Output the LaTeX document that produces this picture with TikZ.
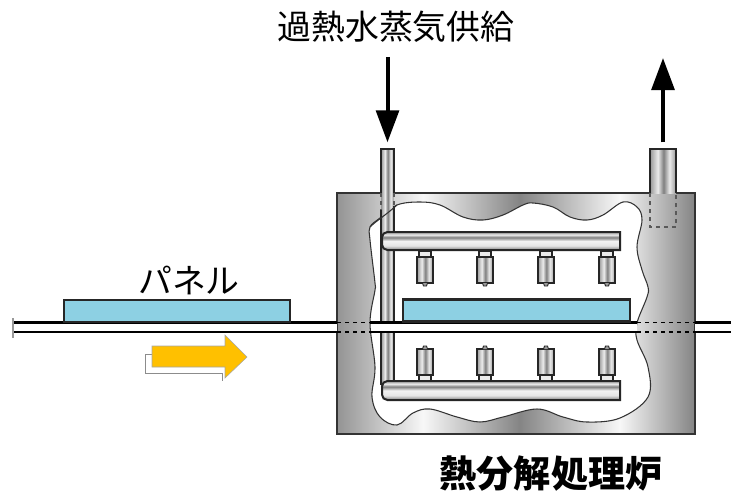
\documentclass[tikz,border=0pt]{standalone}
\usepackage{fontspec}
\newfontfamily\jpfont{Noto Sans CJK JP}
\usepackage{tikz}
\usetikzlibrary{arrows.meta}

\pgfdeclarehorizontalshading{wallshade}{100bp}{
  color(0bp)=(black!42); color(25bp)=(black!42); color(37bp)=(black!3); color(50.5bp)=(black!48);
  color(64.5bp)=(black!3); color(75bp)=(black!48); color(100bp)=(black!48)}
\pgfdeclarehorizontalshading{pipeshade}{100bp}{
  color(0bp)=(black!40); color(25bp)=(black!40); color(40bp)=(black!8); color(51bp)=(black!50);
  color(62.5bp)=(black!8); color(75bp)=(black!40); color(100bp)=(black!40)}
\pgfdeclareverticalshading{barshade}{100bp}{
  color(0bp)=(black!50); color(25bp)=(black!50); color(37bp)=(black!10); color(50bp)=(black!5);
  color(60bp)=(black!50); color(67bp)=(black!10); color(75bp)=(black!35); color(100bp)=(black!35)}
\definecolor{panelblue}{HTML}{8DD0E3}
\definecolor{arrowgold}{HTML}{FFC000}
\definecolor{wallline}{HTML}{333333}

\tikzset{
  x=0.75pt, y=-0.75pt,
  jptext/.style={font=\jpfont\fontsize{25.4pt}{26pt}\selectfont, inner sep=0pt},
  panelbox/.style={draw=black!85, line width=1.6pt, fill=panelblue, inner sep=0pt, outer sep=0pt},
  pipebox/.style={shading=pipeshade, inner sep=0pt, outer sep=0pt},
  pipeedge/.style={draw=black!85, line width=1.5pt},
  wallhidden/.style={dashed, draw=black!65, line width=0.8pt},
  barline/.style={draw=black!85, line width=1.5pt, shading=barshade},
  flow/.style={line width=3pt, -{Triangle[length=24pt, width=17pt]}},
  beltline/.style={draw=black, line width=1.7pt},
  roller/.pic={
    \draw[draw=black!85, line width=1.2pt, fill=black!8] (-6,-18.5) rectangle (6,-13);
    \draw[draw=black!85, line width=1.3pt, shading=pipeshade] (-8,-13) rectangle (8,13);
    \draw[draw=black!85, line width=0.7pt, fill=black!40] (-2.5,13) -- (-1.5,16) -- (1.5,16) -- (2.5,13);
  }
}

\begin{document}
\begin{tikzpicture}
  \useasboundingbox (0,0) rectangle (731,492);

  % furnace body with its opening
  \node (furnace) [draw=wallline, line width=1.5pt, shading=wallshade, inner sep=0pt, outer sep=0pt,
    minimum width=268pt, minimum height=180.5pt] at (516,313.5) {};
  \draw[draw=wallline, line width=0.8pt, fill=white] plot[smooth cycle, tension=0.6] coordinates {
    (380,218) (397,205) (420,202) (440,205) (463,217) (483,220) (503,215) (523,205)
    (533,203) (553,207) (570,217) (587,220) (603,215) (623,202) (637,207) (642,220)
    (637,247) (642,270) (648,287) (647,297) (637,323) (637,340) (648,367) (648,397)
    (620,418) (587,422) (563,417) (537,409) (503,417) (480,422) (457,417) (430,409)
    (413,413) (397,425) (380,417) (372,397) (375,367) (370,323) (375,290) (375,283)
    (370,240) (370,227)};

  % steam pipe and exhaust stack
  \node (vpipe) [pipebox, minimum width=9.5pt, minimum height=177pt] at (387.5,267) {};
  \draw[pipeedge] (381,193) -- (381,149) -- (394,149) -- (394,193);
  \draw[pipeedge] (381,210) -- (381,385) (394,206) -- (394,385);
  \draw[wallhidden] (381,193) -- (381,210) (394,193) -- (394,206);
  \draw[draw=wallline, line width=0.8pt] (370,227) .. controls (376,221) and (386,215) .. (397,205);
  \node (stack) [pipebox, minimum width=19.5pt, minimum height=33pt] at (663,171) {};
  \draw[pipeedge] (stack.south west) -- (stack.north west) -- (stack.north east) -- (stack.south east);
  \draw[wallhidden] (650,193) -- (650,227) -- (676,227) -- (676,193);

  % header bars
  \draw[barline] (620,232) [rounded corners=4pt] -- (382,232) -- (382,250) [sharp corners] -- (620,250) -- cycle;
  \draw[barline] (620,381) [rounded corners=4pt] -- (382,381) -- (382,400) [sharp corners] -- (620,400) -- cycle;

  \pic at (425,270) {roller};
  \pic at (485,270) {roller};
  \pic at (546,270) {roller};
  \pic at (607,270) {roller};
  \pic[yscale=-1] at (425,362) {roller};
  \pic[yscale=-1] at (485,362) {roller};
  \pic[yscale=-1] at (546,362) {roller};
  \pic[yscale=-1] at (607,362) {roller};

  % conveyor
  \fill[white] (14,323) rectangle (337,331);
  \fill[white] (372,323) rectangle (637,331);
  \fill[white] (695,323) rectangle (731,331);
  \draw[beltline] (14,322.5) -- (337,322.5) (14,332) -- (337,332);
  \draw[beltline] (370,322.5) -- (637,322.5) (370,332) -- (637,332);
  \draw[beltline] (695,322.5) -- (731,322.5) (695,332) -- (731,332);
  \draw[dashed, line width=0.8pt] (337,322.5) -- (370,322.5) (337,332) -- (370,332);
  \draw[dashed, line width=0.8pt] (637,322.5) -- (695,322.5) (637,332) -- (695,332);
  \draw[draw=black!40, line width=1pt] (13,318) -- (13,338);

  % panels
  \node (panelout) [panelbox, minimum width=170pt, minimum height=16.5pt] at (177,311) {};
  \node (panelin) [panelbox, minimum width=170pt, minimum height=16.5pt] at (516.5,310.5) {};

  % travel arrow
  \draw[draw=black!45, line width=0.7pt] (152,354) -- (145,354) -- (145,373) -- (222,373) -- (222,381);
  \draw[draw=black!35, line width=0.4pt, fill=arrowgold] (152,346) -- (225,346) -- (225,335) -- (247,357)
    -- (225,378) -- (225,367) -- (152,367) -- cycle;

  % labels
  \node (supply) [jptext] at (396,27) {過熱水蒸気供給};
  \node (panellabel) [jptext] at (189,280) {パネル};
  \node (furnacelabel) [font=\jpfont\bfseries\fontsize{27.8pt}{28pt}\selectfont, inner sep=0pt] at (551,474) {熱分解処理炉};

  % steam in, exhaust out
  \coordinate (steamin) at (387.5,57);
  \coordinate (exhaust) at (663,58);
  \path[flow]
  (steamin) edge [shorten >=5pt] (vpipe.north)
  (stack.north) edge [shorten <=5pt] (exhaust)
  ;
\end{tikzpicture}
\end{document}
